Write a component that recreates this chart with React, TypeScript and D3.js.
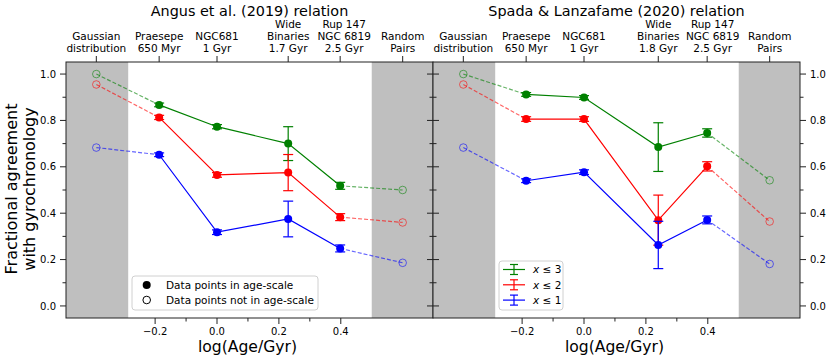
import React from 'react';
import * as d3 from 'd3';

// top-axis group labels (one row per text line)
const leftGroups = [
  ['Gaussian', 'distribution'],
  ['Praesepe', '650 Myr'],
  ['NGC681', '1 Gyr'],
  ['Wide', 'Binaries', '1.7 Gyr'],
  ['Rup 147', 'NGC 6819', '2.5 Gyr'],
  ['Random', 'Pairs'],
];
const rightGroups = [
  ['Gaussian', 'distribution'],
  ['Praesepe', '650 Myr'],
  ['NGC681', '1 Gyr'],
  ['Wide', 'Binaries', '1.8 Gyr'],
  ['Rup 147', 'NGC 6819', '2.5 Gyr'],
  ['Random', 'Pairs'],
];
const leftAges = [-0.39, -0.187, 0, 0.23, 0.398, 0.6];
const rightAges = [-0.39, -0.187, 0, 0.24, 0.398, 0.6];
// which points are on the age scale (filled) vs not (open)
const inAgeScale = [false, true, true, true, true, false];

// Angus et al. (2019)
const angusX3 = [1.0, 0.867, 0.773, 0.7, 0.518, 0.5];
const angusX3Err = [0, 0.008, 0.009, 0.073, 0.015, 0];
const angusX2 = [0.955, 0.813, 0.565, 0.575, 0.383, 0.36];
const angusX2Err = [0, 0.009, 0.01, 0.078, 0.015, 0];
const angusX1 = [0.683, 0.652, 0.318, 0.375, 0.248, 0.186];
const angusX1Err = [0, 0.008, 0.01, 0.077, 0.015, 0];

// Spada & Lanzafame (2020)
const spadaX3 = [1.0, 0.912, 0.899, 0.685, 0.746, 0.542];
const spadaX3Err = [0, 0.008, 0.008, 0.105, 0.018, 0];
const spadaX2 = [0.955, 0.806, 0.806, 0.37, 0.602, 0.364];
const spadaX2Err = [0, 0.01, 0.01, 0.108, 0.02, 0];
const spadaX1 = [0.683, 0.54, 0.577, 0.263, 0.371, 0.181];
const spadaX1Err = [0, 0.008, 0.01, 0.102, 0.017, 0];

const xMajor = [-0.2, 0, 0.2, 0.4];
const xMinor = [-0.1, 0.1, 0.3];
const yMajor = [0, 0.2, 0.4, 0.6, 0.8, 1.0];
const yMinor = [0.1, 0.3, 0.5, 0.7, 0.9];
const seriesColors = ['green', 'red', 'blue'];
const seriesNames = ['3', '2', '1'];

const FONT = 'DejaVu Sans, Liberation Sans, sans-serif';
const top = 62;
const bottom = 318;
const panelW = 367;

const y = d3.scaleLinear().domain([-0.052, 1.052]).range([bottom, top]);

type Series = { vals: number[]; errs: number[]; color: string };

const Panel = ({ x0, title, groups, ages, series, side, rupShift }: {
  x0: number; title: string; groups: string[][]; ages: number[]; series: Series[]; side: 'left' | 'right'; rupShift: number;
}) => {
  const x = d3.scaleLinear().domain([-0.488, 0.698]).range([x0, x0 + panelW]);
  const line = d3.line<[number, number]>().x(d => x(d[0])).y(d => y(d[1]));
  const greyL = x(-0.287);
  const greyR = x(0.5);
  const yAxisX = side === 'left' ? x0 : x0 + panelW;
  const dir = side === 'left' ? -1 : 1;
  const otherX = side === 'left' ? x0 + panelW : x0;
  return (
    <g>
      <rect x={x0} y={top} width={greyL - x0} height={bottom - top} fill="#bfbfbf" />
      <rect x={greyR} y={top} width={x0 + panelW - greyR} height={bottom - top} fill="#bfbfbf" />
      <text x={x0 + panelW / 2} y={16} textAnchor="middle" fontSize={14.4} fontFamily={FONT}>{title}</text>
      {groups.map((lines, i) => (
        <g key={i}>
          <line x1={x(ages[i])} x2={x(ages[i])} y1={top} y2={top - 6} stroke="#222" />
          {lines.map((t, j) => (
            <text key={j} x={x(ages[i]) + (i === 4 ? rupShift : 0)} y={51.5 - (lines.length - 1 - j) * 11.6} textAnchor="middle" fontSize={10.5} fontFamily={FONT}>{t}</text>
          ))}
        </g>
      ))}
      {xMajor.map(v => (
        <g key={v}>
          <line x1={x(v)} x2={x(v)} y1={bottom} y2={bottom + 6} stroke="#222" />
          <text x={x(v)} y={335} textAnchor="middle" fontSize={10} fontFamily={FONT}>{d3.format('.1f')(v).replace('-', '\u2212')}</text>
        </g>
      ))}
      {xMinor.map(v => (
        <line key={v} x1={x(v)} x2={x(v)} y1={bottom} y2={bottom + 3.5} stroke="#222" />
      ))}
      <text x={x0 + panelW / 2 - 2} y={352} textAnchor="middle" fontSize={15.6} fontFamily={FONT}>log(Age/Gyr)</text>
      {yMajor.map(v => (
        <g key={v}>
          <line x1={yAxisX} x2={yAxisX + dir * 6} y1={y(v)} y2={y(v)} stroke="#222" />
          <line x1={otherX} x2={otherX + dir * 6} y1={y(v)} y2={y(v)} stroke="#222" />
          <text x={yAxisX + dir * 10} y={y(v) + 3.6} textAnchor={side === 'left' ? 'end' : 'start'} fontSize={10} fontFamily={FONT}>{v.toFixed(1)}</text>
        </g>
      ))}
      {yMinor.map(v => (
        <g key={v}>
          <line x1={yAxisX} x2={yAxisX + dir * 3.5} y1={y(v)} y2={y(v)} stroke="#222" />
          <line x1={otherX} x2={otherX + dir * 3.5} y1={y(v)} y2={y(v)} stroke="#222" />
        </g>
      ))}
      {series.map((s, si) => {
        const pts: [number, number][] = s.vals.map((v, i) => [ages[i], v]);
        const solid = pts.filter((_, i) => inAgeScale[i]);
        return (
          <g key={si}>
            <path d={line([pts[0], pts[1]]) || ''} fill="none" stroke={s.color} strokeWidth={1.2} strokeDasharray="4,2" opacity={0.6} />
            <path d={line([pts[4], pts[5]]) || ''} fill="none" stroke={s.color} strokeWidth={1.2} strokeDasharray="4,2" opacity={0.6} />
            <path d={line(solid) || ''} fill="none" stroke={s.color} strokeWidth={1.2} />
            {pts.map((p, i) => inAgeScale[i] ? (
              <g key={i}>
                <line x1={x(p[0])} x2={x(p[0])} y1={y(p[1] - s.errs[i])} y2={y(p[1] + s.errs[i])} stroke={s.color} strokeWidth={1.2} />
                <line x1={x(p[0]) - 5} x2={x(p[0]) + 5} y1={y(p[1] - s.errs[i])} y2={y(p[1] - s.errs[i])} stroke={s.color} strokeWidth={1.2} />
                <line x1={x(p[0]) - 5} x2={x(p[0]) + 5} y1={y(p[1] + s.errs[i])} y2={y(p[1] + s.errs[i])} stroke={s.color} strokeWidth={1.2} />
                <circle cx={x(p[0])} cy={y(p[1])} r={4} fill={s.color} />
              </g>
            ) : (
              <circle key={i} cx={x(p[0])} cy={y(p[1])} r={3.8} fill="none" stroke={s.color} strokeWidth={1} opacity={0.55} />
            ))}
          </g>
        );
      })}
      <rect x={x0} y={top} width={panelW} height={bottom - top} fill="none" stroke="#222" strokeWidth={1} />
    </g>
  );
};

const App = () => {
  const leftSeries: Series[] = [
    { vals: angusX3, errs: angusX3Err, color: seriesColors[0] },
    { vals: angusX2, errs: angusX2Err, color: seriesColors[1] },
    { vals: angusX1, errs: angusX1Err, color: seriesColors[2] },
  ];
  const rightSeries: Series[] = [
    { vals: spadaX3, errs: spadaX3Err, color: seriesColors[0] },
    { vals: spadaX2, errs: spadaX2Err, color: seriesColors[1] },
    { vals: spadaX1, errs: spadaX1Err, color: seriesColors[2] },
  ];
  return (
    <svg width={831} height={360} style={{ position: 'absolute', left: 0, top: 0, background: 'white' }}>
      <Panel x0={66} title="Angus et al. (2019) relation" groups={leftGroups} ages={leftAges} series={leftSeries} side="left" rupShift={4} />
      <Panel x0={433} title="Spada & Lanzafame (2020) relation" groups={rightGroups} ages={rightAges} series={rightSeries} side="right" rupShift={5.5} />

      <g fontFamily={FONT} fontSize={16}>
        <text transform="translate(17,189) rotate(-90)" textAnchor="middle">Fractional agreement</text>
        <text transform="translate(35,189) rotate(-90)" textAnchor="middle">with gyrochronology</text>
      </g>

      {/* marker legend */}
      <rect x={132} y={276} width={186} height={34} rx={3} fill="white" fillOpacity={0.85} stroke="#d0d0d0" />
      <circle cx={146.7} cy={285} r={4} fill="black" />
      <text x={166} y={288.6} fontSize={10.5} fontFamily={FONT}>Data points in age-scale</text>
      <circle cx={146.7} cy={300} r={3.8} fill="none" stroke="black" strokeWidth={1} />
      <text x={166} y={303.6} fontSize={10.5} fontFamily={FONT}>Data points not in age-scale</text>

      {/* errorbar legend */}
      <rect x={499} y={261} width={64} height={49} rx={3} fill="white" fillOpacity={0.85} stroke="#d0d0d0" />
      {seriesColors.map((c, i) => {
        const cy = 269.5 + i * 15.3;
        return (
          <g key={c}>
            <line x1={503} x2={525} y1={cy} y2={cy} stroke={c} strokeWidth={1.2} />
            <line x1={514} x2={514} y1={cy - 5} y2={cy + 5} stroke={c} strokeWidth={1.2} />
            <line x1={510} x2={518} y1={cy - 5} y2={cy - 5} stroke={c} strokeWidth={1.2} />
            <line x1={510} x2={518} y1={cy + 5} y2={cy + 5} stroke={c} strokeWidth={1.2} />
            <text x={533} y={cy + 3.8} fontSize={10.5} fontFamily={FONT}>
              <tspan fontStyle="italic">x</tspan>{' \u2264 ' + seriesNames[i]}
            </text>
          </g>
        );
      })}
    </svg>
  );
};

export default App;
